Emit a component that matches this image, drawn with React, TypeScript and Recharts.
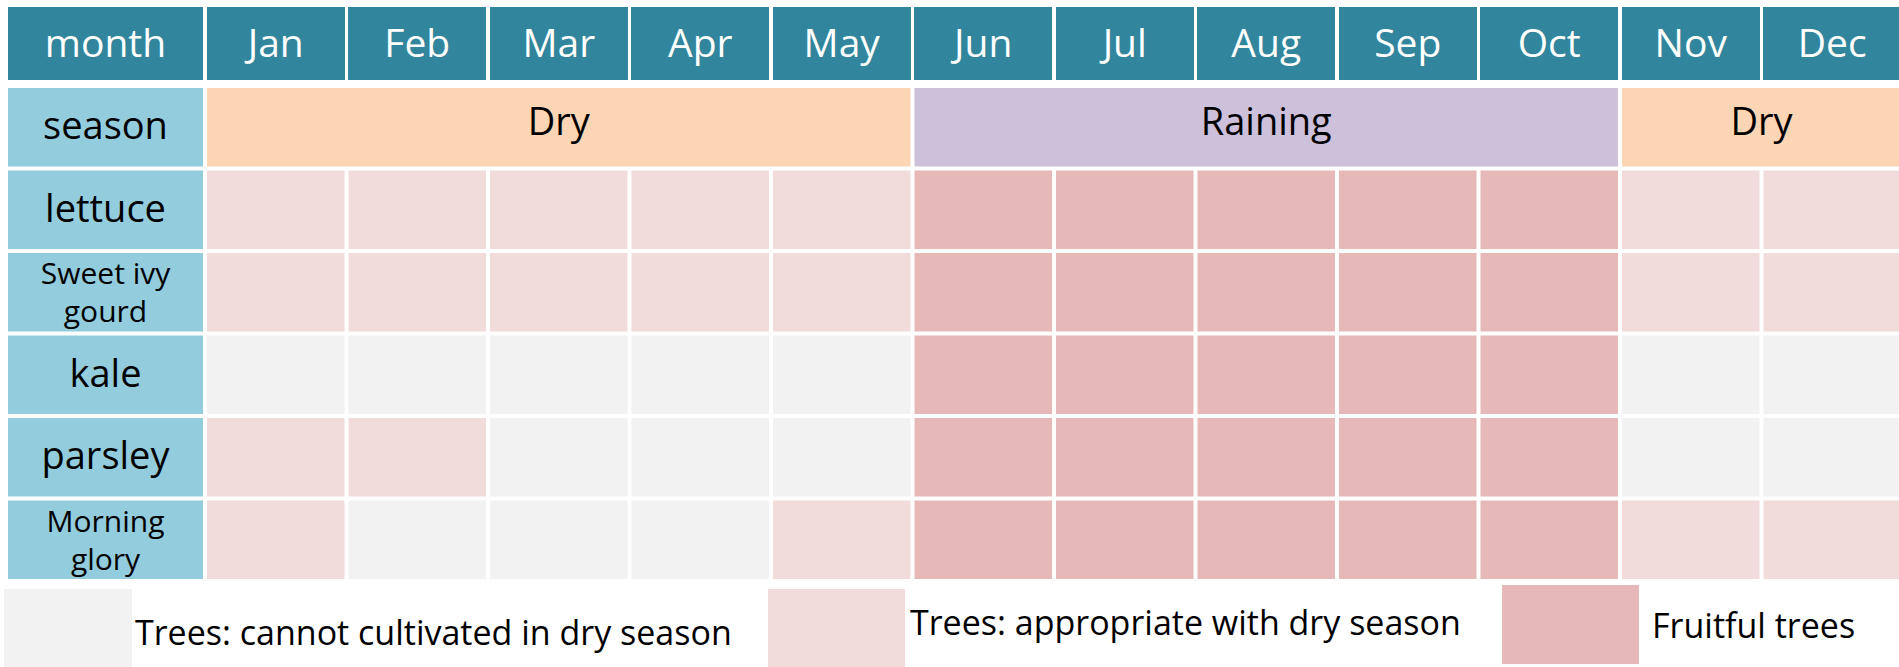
import React from 'react'
import { ScatterChart, Scatter, XAxis, YAxis, ReferenceArea } from 'recharts'

const months = ['Jan', 'Feb', 'Mar', 'Apr', 'May', 'Jun', 'Jul', 'Aug', 'Sep', 'Oct', 'Nov', 'Dec']
const crops = ['lettuce', 'Sweet ivy gourd', 'kale', 'parsley', 'Morning glory']

// 0 = cannot cultivate in dry season, 1 = appropriate with dry season, 2 = fruitful
const lettuce = [1, 1, 1, 1, 1, 2, 2, 2, 2, 2, 1, 1]
const sweetIvyGourd = [1, 1, 1, 1, 1, 2, 2, 2, 2, 2, 1, 1]
const kale = [0, 0, 0, 0, 0, 2, 2, 2, 2, 2, 0, 0]
const parsley = [1, 1, 0, 0, 0, 2, 2, 2, 2, 2, 0, 0]
const morningGlory = [1, 0, 0, 0, 1, 2, 2, 2, 2, 2, 1, 1]
const cropStates = [lettuce, sweetIvyGourd, kale, parsley, morningGlory]

const seasonNames = ['Dry', 'Raining', 'Dry']
const seasonFrom = ['Jan', 'Jun', 'Nov']
const seasonTo = ['May', 'Oct', 'Dec']

const legendLabels = [
  'Trees: cannot cultivated in dry season',
  'Trees: appropriate with dry season',
  'Fruitful trees'
]

const stateColors = ['#f2f2f2', '#f2dcdb', '#e6b8b7']
const seasonColors: Record<string, string> = { Dry: '#fcd5b4', Raining: '#ccc0da' }
const TEAL = '#31859c'
const ROW_BLUE = '#93cddd'
const FONT = '"Open Sans", sans-serif'

// layout
const W = 1903
const H = 581
const M = { top: 7, right: 0, bottom: 0, left: 8 }
const X_AXIS_H = 79
const Y_AXIS_W = 197
const GAP = 2
const CW = (W - M.left - Y_AXIS_W - M.right) / months.length
const CH = (H - M.top - X_AXIS_H - M.bottom) / (crops.length + 1)

const seasonPoints = months.map((m) => ({ month: m, row: 'season' }))
const cellPoints = crops.flatMap((crop, r) =>
  months.map((m, c) => ({ month: m, row: crop, state: cropStates[r][c] }))
)

function MonthTick(props: any) {
  const { x, payload } = props
  return (
    <g>
      <rect x={x - CW / 2 + GAP} y={7} width={CW - 2 * GAP} height={73} fill={TEAL} />
      <text x={x} y={57} textAnchor="middle" fill="#fff" fontSize={39} fontFamily={FONT}>
        {payload.value}
      </text>
    </g>
  )
}

function RowTick(props: any) {
  const { y, payload } = props
  const label = String(payload.value)
  const left = M.left
  const right = M.left + Y_AXIS_W - GAP
  const mid = (left + right) / 2
  const cut = label.lastIndexOf(' ')
  return (
    <g>
      <rect x={left} y={y - CH / 2 + GAP} width={right - left} height={CH - 2 * GAP} fill={ROW_BLUE} />
      {cut > 0 ? (
        <text textAnchor="middle" fill="#000" fontSize={30} fontFamily={FONT}>
          <tspan x={mid} y={y - 8}>{label.slice(0, cut)}</tspan>
          <tspan x={mid} y={y + 30}>{label.slice(cut + 1)}</tspan>
        </text>
      ) : (
        <text x={mid} y={y + 12} textAnchor="middle" fill="#000" fontSize={38} fontFamily={FONT}>
          {label}
        </text>
      )}
    </g>
  )
}

function CellShape(props: any) {
  const { cx, cy, payload } = props
  return (
    <rect
      x={cx - CW / 2 + GAP}
      y={cy - CH / 2 + GAP}
      width={CW - 2 * GAP}
      height={CH - 2 * GAP}
      fill={stateColors[payload.state]}
    />
  )
}

function SeasonShape(props: any) {
  const { x, y, width, height, name } = props
  return (
    <g>
      <rect x={x + GAP} y={y + GAP} width={width - 2 * GAP} height={height - 2 * GAP} fill={seasonColors[name]} />
      <text x={x + width / 2} y={y + height / 2 + 8} textAnchor="middle" fill="#000" fontSize={38} fontFamily={FONT}>
        {name}
      </text>
    </g>
  )
}

const legendBoxes = [
  { x: 4, y: 589, w: 128, h: 78, tx: 135, ty: 645 },
  { x: 768, y: 589, w: 137, h: 78, tx: 910, ty: 635 },
  { x: 1502, y: 585, w: 137, h: 79, tx: 1652, ty: 638 }
]

export default function App() {
  return (
    <div style={{ position: 'fixed', left: 0, top: 0, width: 1899, height: 667, overflow: 'hidden', background: '#fff' }}>
      <ScatterChart width={W} height={H} margin={M}>
        <XAxis
          type="category"
          scale="band"
          dataKey="month"
          orientation="top"
          allowDuplicatedCategory={false}
          height={X_AXIS_H}
          axisLine={false}
          tickLine={false}
          interval={0}
          tick={<MonthTick />}
        />
        <YAxis
          type="category"
          scale="band"
          dataKey="row"
          allowDuplicatedCategory={false}
          reversed
          width={Y_AXIS_W}
          axisLine={false}
          tickLine={false}
          interval={0}
          tick={<RowTick />}
        />
        <Scatter data={seasonPoints} shape={() => <g />} isAnimationActive={false} />
        {seasonNames.map((name, i) => (
          <ReferenceArea
            key={i}
            x1={seasonFrom[i]}
            x2={seasonTo[i]}
            y1="season"
            y2="season"
            ifOverflow="visible"
            shape={(p: any) => <SeasonShape {...p} name={name} />}
          />
        ))}
        <Scatter data={cellPoints} shape={<CellShape />} isAnimationActive={false} />
      </ScatterChart>
      <svg width={1899} height={667} style={{ position: 'absolute', left: 0, top: 0, pointerEvents: 'none' }}>
        <rect x={M.left} y={7} width={Y_AXIS_W - GAP} height={73} fill={TEAL} />
        <text x={M.left + (Y_AXIS_W - GAP) / 2} y={57} textAnchor="middle" fill="#fff" fontSize={39} fontFamily={FONT}>
          month
        </text>
        {legendLabels.map((label, i) => {
          const b = legendBoxes[i]
          return (
            <g key={label}>
              <rect x={b.x} y={b.y} width={b.w} height={b.h} fill={stateColors[i]} />
              <text x={b.tx} y={b.ty} fill="#000" fontSize={34} fontFamily={FONT}>
                {label}
              </text>
            </g>
          )
        })}
      </svg>
    </div>
  )
}
